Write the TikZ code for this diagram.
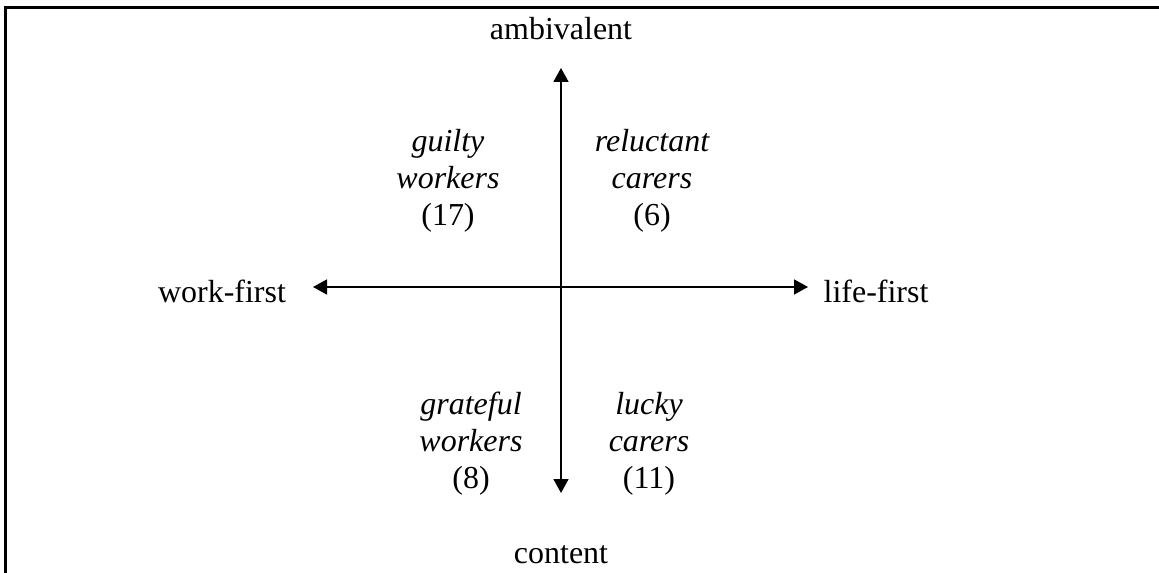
\documentclass[tikz,border=0pt]{standalone}
\usepackage{fontspec}
\setmainfont{Liberation Serif}
\usetikzlibrary{arrows.meta,positioning}

\begin{document}
\begin{tikzpicture}[x=0.02cm,y=-0.02cm, >={Triangle[length=0.28cm,width=0.3cm]},
        every node/.style={font=\fontsize{18.2}{21}\selectfont, inner sep=0pt},
        pole/.style={anchor=base},
        group/.style={align=center, font=\fontsize{18.2}{21}\selectfont\itshape},
        axis/.style={line width=1pt}]
        \useasboundingbox (0,0) rectangle (1159,573);
        \draw[line width=1.7pt] (5.5,573) -- (5.5,7.5) -- (1159,7.5);

                \coordinate (top)    at (561,68);
                \coordinate (bottom) at (561,493);
                \coordinate (left)   at (313,287);
                \coordinate (right)  at (808,287);

                \node[pole] (amb) at (561,40)  {ambivalent};
                \node[pole] (con) at (561,563) {content};
                \node[pole] (wf)  at (222,303) {work-first};
                \node[pole] (lf)  at (876,303) {life-first};

                \node[group] (gw)  at (448,181) {guilty\\ workers\\ \upshape(17)};
                \node[group] (rc)  at (652,181) {reluctant\\ carers\\ \upshape(6)};
                \node[group] (grw) at (471,444) {grateful\\ workers\\ \upshape(8)};
                \node[group] (lc)  at (649,444) {lucky\\ carers\\ \upshape(11)};

            \draw[axis,<->] (top) -- (bottom);
            \draw[axis,<->] (left) -- (right);
\end{tikzpicture}
\end{document}
